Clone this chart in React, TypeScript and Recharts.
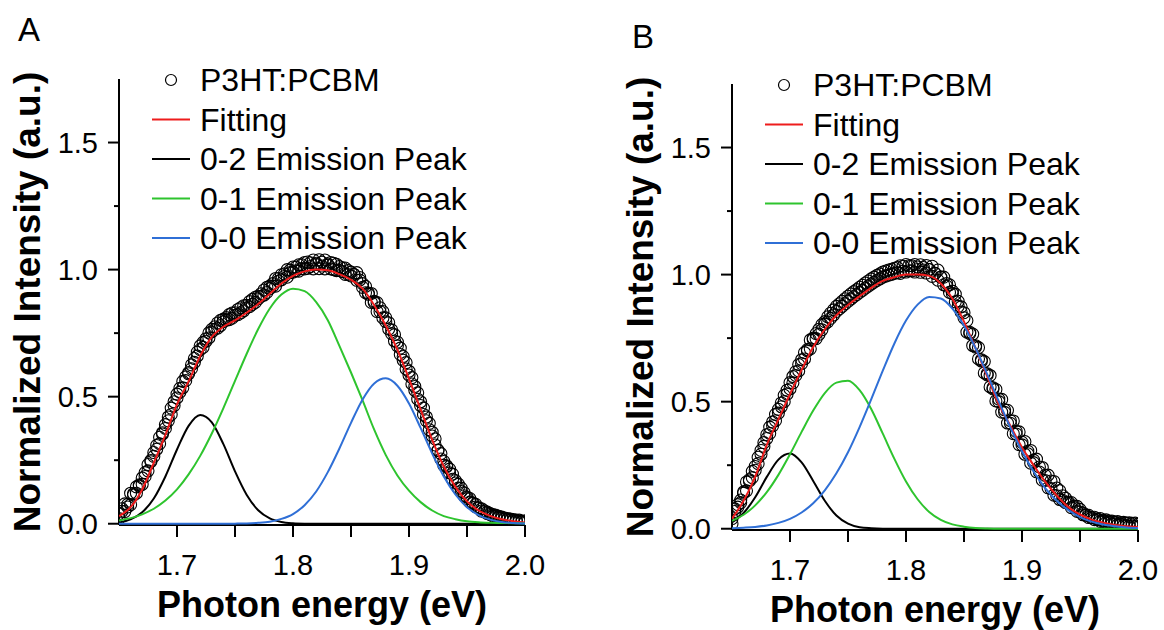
import React from "react";
import { ComposedChart, Line, Scatter, XAxis, YAxis, Label, Legend } from "recharts";

const FONT = "'Liberation Sans', Arial, sans-serif";

// photon energy grid of the fitted curves (eV)
const energy = [
  1.65, 1.66, 1.67, 1.68, 1.69, 1.7, 1.71, 1.72, 1.73, 1.74, 1.75, 1.76,
  1.77, 1.78, 1.79, 1.8, 1.81, 1.82, 1.83, 1.84, 1.85, 1.86, 1.87, 1.88,
  1.89, 1.9, 1.91, 1.92, 1.93, 1.94, 1.95, 1.96, 1.97, 1.98, 1.99, 2.0,
];

// photon energy of the measured points (eV), two scans per sample
const scanEnergy = [
  1.65, 1.6525, 1.655, 1.6575, 1.66, 1.6625, 1.665, 1.6675, 1.67, 1.6725,
  1.675, 1.6775, 1.68, 1.6825, 1.685, 1.6875, 1.69, 1.6925, 1.695, 1.6975,
  1.7, 1.7025, 1.705, 1.7075, 1.71, 1.7125, 1.715, 1.7175, 1.72, 1.7225,
  1.725, 1.7275, 1.73, 1.7325, 1.735, 1.7375, 1.74, 1.7425, 1.745, 1.7475,
  1.75, 1.7525, 1.755, 1.7575, 1.76, 1.7625, 1.765, 1.7675, 1.77, 1.7725,
  1.775, 1.7775, 1.78, 1.7825, 1.785, 1.7875, 1.79, 1.7925, 1.795, 1.7975,
  1.8, 1.8025, 1.805, 1.8075, 1.81, 1.8125, 1.815, 1.8175, 1.82, 1.8225,
  1.825, 1.8275, 1.83, 1.8325, 1.835, 1.8375, 1.84, 1.8425, 1.845, 1.8475,
  1.85, 1.8525, 1.855, 1.8575, 1.86, 1.8625, 1.865, 1.8675, 1.87, 1.8725,
  1.875, 1.8775, 1.88, 1.8825, 1.885, 1.8875, 1.89, 1.8925, 1.895, 1.8975,
  1.9, 1.9025, 1.905, 1.9075, 1.91, 1.9125, 1.915, 1.9175, 1.92, 1.9225,
  1.925, 1.9275, 1.93, 1.9325, 1.935, 1.9375, 1.94, 1.9425, 1.945, 1.9475,
  1.95, 1.9525, 1.955, 1.9575, 1.96, 1.9625, 1.965, 1.9675, 1.97, 1.9725,
  1.975, 1.9775, 1.98, 1.9825, 1.985, 1.9875, 1.99, 1.9925, 1.995, 1.9975,
  2.0,
];

// panel A
const fitA = [
  0.03, 0.065, 0.135, 0.24, 0.35, 0.47, 0.56, 0.66, 0.735, 0.775, 0.8, 0.83,
  0.865, 0.905, 0.945, 0.975, 0.993, 1.0, 0.997, 0.982, 0.96, 0.925, 0.86, 0.78,
  0.685, 0.57, 0.45, 0.33, 0.225, 0.145, 0.088, 0.052, 0.031, 0.018, 0.01, 0.005,
];
const peak02A = [
  0.005, 0.017, 0.045, 0.099, 0.186, 0.292, 0.385, 0.428, 0.399, 0.313, 0.206, 0.114,
  0.053, 0.021, 0.007, 0.002, 0.0004, 0, 0, 0, 0, 0, 0, 0,
  0, 0, 0, 0, 0, 0, 0, 0, 0, 0, 0, 0,
];
const peak01A = [
  0.013, 0.022, 0.037, 0.059, 0.091, 0.135, 0.194, 0.267, 0.355, 0.455, 0.562, 0.668,
  0.766, 0.847, 0.902, 0.925, 0.915, 0.872, 0.801, 0.7, 0.595, 0.485, 0.37, 0.27,
  0.19, 0.13, 0.085, 0.052, 0.03, 0.018, 0.01, 0.006, 0.004, 0.003, 0.002, 0.001,
];
const peak00A = [
  0, 0, 0, 0, 0, 0, 0, 0, 0, 0, 0.0004, 0.0012,
  0.0034, 0.008, 0.019, 0.038, 0.073, 0.127, 0.203, 0.296, 0.397, 0.489, 0.552, 0.572,
  0.543, 0.473, 0.377, 0.276, 0.186, 0.115, 0.065, 0.034, 0.016, 0.007, 0.003, 0.001,
];
const scan1A = [
  0.02, 0.049, 0.048, 0.076, 0.075, 0.113, 0.12, 0.153, 0.155, 0.201,
  0.208, 0.249, 0.265, 0.308, 0.315, 0.358, 0.375, 0.42, 0.43, 0.48,
  0.495, 0.533, 0.535, 0.578, 0.59, 0.625, 0.635, 0.675, 0.685, 0.714,
  0.718, 0.751, 0.755, 0.775, 0.77, 0.8, 0.795, 0.811, 0.803, 0.829,
  0.82, 0.843, 0.83, 0.858, 0.85, 0.874, 0.863, 0.891, 0.885, 0.905,
  0.9, 0.93, 0.925, 0.945, 0.935, 0.965, 0.96, 0.983, 0.97, 0.998,
  0.99, 1.01, 0.994, 1.019, 1.003, 1.03, 1.012, 1.038, 1.02, 1.039,
  1.014, 1.038, 1.017, 1.028, 1.0, 1.021, 0.997, 1.007, 0.981, 0.996,
  0.975, 0.981, 0.958, 0.969, 0.93, 0.934, 0.903, 0.906, 0.87, 0.87,
  0.835, 0.835, 0.795, 0.791, 0.748, 0.744, 0.7, 0.691, 0.643, 0.634,
  0.585, 0.575, 0.525, 0.515, 0.465, 0.455, 0.405, 0.395, 0.345, 0.334,
  0.288, 0.276, 0.23, 0.228, 0.2, 0.195, 0.16, 0.156, 0.127, 0.122,
  0.098, 0.099, 0.08, 0.076, 0.062, 0.059, 0.047, 0.046, 0.036, 0.036,
  0.028, 0.029, 0.021, 0.022, 0.016, 0.018, 0.012, 0.014, 0.009, 0.01,
  0.005,
];
const scan2A = [
  0.04, 0.059, 0.078, 0.066, 0.12, 0.118, 0.145, 0.148, 0.18, 0.186,
  0.233, 0.244, 0.28, 0.293, 0.34, 0.353, 0.39, 0.405, 0.455, 0.465,
  0.51, 0.518, 0.56, 0.563, 0.595, 0.61, 0.65, 0.66, 0.7, 0.694,
  0.728, 0.731, 0.765, 0.765, 0.79, 0.78, 0.805, 0.801, 0.823, 0.809,
  0.83, 0.823, 0.85, 0.838, 0.86, 0.854, 0.883, 0.871, 0.895, 0.895,
  0.92, 0.91, 0.935, 0.935, 0.965, 0.955, 0.98, 0.973, 1.0, 0.988,
  1.01, 0.995, 1.019, 1.004, 1.028, 1.005, 1.027, 1.003, 1.025, 1.004,
  1.029, 1.003, 1.022, 1.003, 1.025, 0.996, 1.012, 0.992, 1.006, 0.981,
  0.99, 0.981, 0.988, 0.959, 0.945, 0.909, 0.908, 0.871, 0.875, 0.835,
  0.85, 0.81, 0.81, 0.766, 0.763, 0.719, 0.715, 0.666, 0.658, 0.609,
  0.6, 0.55, 0.54, 0.49, 0.48, 0.43, 0.42, 0.37, 0.36, 0.31,
  0.29, 0.255, 0.245, 0.225, 0.215, 0.175, 0.17, 0.14, 0.14, 0.11,
  0.105, 0.085, 0.082, 0.066, 0.063, 0.05, 0.051, 0.04, 0.04, 0.03,
  0.033, 0.024, 0.026, 0.018, 0.02, 0.014, 0.016, 0.01, 0.014, 0.008,
  0.012,
];

// panel B
const fitB = [
  0.04, 0.11, 0.205, 0.33, 0.43, 0.53, 0.625, 0.715, 0.785, 0.84, 0.88, 0.915,
  0.948, 0.975, 0.99, 1.0, 1.0, 0.995, 0.965, 0.905, 0.815, 0.71, 0.6, 0.49,
  0.405, 0.32, 0.25, 0.185, 0.13, 0.085, 0.056, 0.036, 0.024, 0.015, 0.01, 0.007,
];
const peak02B = [
  0.025, 0.062, 0.124, 0.204, 0.272, 0.296, 0.261, 0.188, 0.11, 0.052, 0.02, 0.006,
  0.002, 0.0003, 0, 0, 0, 0, 0, 0, 0, 0, 0, 0,
  0, 0, 0, 0, 0, 0, 0, 0, 0, 0, 0, 0,
];
const peak01B = [
  0.031, 0.055, 0.092, 0.144, 0.212, 0.293, 0.381, 0.465, 0.534, 0.575, 0.582, 0.545,
  0.471, 0.374, 0.275, 0.186, 0.116, 0.066, 0.035, 0.017, 0.008, 0.003, 0.001, 0,
  0, 0, 0, 0, 0, 0, 0, 0, 0, 0, 0, 0,
];
const peak00B = [
  0.002, 0.004, 0.007, 0.013, 0.023, 0.039, 0.064, 0.1, 0.151, 0.218, 0.301, 0.4,
  0.509, 0.622, 0.729, 0.819, 0.882, 0.912, 0.906, 0.866, 0.799, 0.71, 0.608, 0.501,
  0.398, 0.305, 0.225, 0.16, 0.11, 0.073, 0.046, 0.028, 0.017, 0.01, 0.005, 0.003,
];
const scan1B = [
  0.02, 0.068, 0.095, 0.103, 0.14, 0.149, 0.193, 0.201, 0.245, 0.256,
  0.308, 0.324, 0.37, 0.375, 0.42, 0.425, 0.47, 0.48, 0.525, 0.53,
  0.575, 0.574, 0.618, 0.621, 0.665, 0.668, 0.705, 0.708, 0.75, 0.748,
  0.785, 0.783, 0.815, 0.814, 0.848, 0.841, 0.875, 0.865, 0.895, 0.885,
  0.915, 0.904, 0.933, 0.921, 0.95, 0.938, 0.967, 0.955, 0.983, 0.97,
  0.997, 0.983, 1.01, 0.994, 1.018, 1.001, 1.025, 1.008, 1.035, 1.013,
  1.04, 1.015, 1.035, 1.01, 1.03, 1.009, 1.028, 1.006, 1.02, 0.993,
  1.005, 0.978, 0.99, 0.96, 0.965, 0.93, 0.935, 0.893, 0.895, 0.853,
  0.85, 0.774, 0.768, 0.721, 0.715, 0.668, 0.66, 0.613, 0.605, 0.558,
  0.55, 0.503, 0.5, 0.459, 0.458, 0.416, 0.415, 0.374, 0.373, 0.331,
  0.33, 0.293, 0.295, 0.258, 0.26, 0.224, 0.223, 0.191, 0.19, 0.161,
  0.158, 0.132, 0.13, 0.115, 0.112, 0.103, 0.1, 0.083, 0.083, 0.068,
  0.066, 0.055, 0.054, 0.044, 0.043, 0.036, 0.036, 0.029, 0.029, 0.024,
  0.025, 0.019, 0.019, 0.015, 0.017, 0.012, 0.013, 0.01, 0.012, 0.009,
  0.007,
];
const scan2B = [
  0.04, 0.078, 0.085, 0.113, 0.145, 0.184, 0.188, 0.226, 0.23, 0.281,
  0.293, 0.339, 0.355, 0.4, 0.405, 0.45, 0.455, 0.495, 0.5, 0.545,
  0.55, 0.599, 0.603, 0.646, 0.65, 0.693, 0.7, 0.743, 0.745, 0.768,
  0.765, 0.803, 0.805, 0.834, 0.828, 0.861, 0.855, 0.885, 0.875, 0.905,
  0.895, 0.924, 0.913, 0.941, 0.93, 0.958, 0.947, 0.975, 0.963, 0.99,
  0.977, 1.003, 0.99, 1.014, 0.998, 1.021, 1.005, 1.028, 1.005, 1.033,
  1.01, 1.035, 1.015, 1.04, 1.02, 1.039, 1.018, 1.036, 1.02, 1.033,
  1.005, 1.018, 0.99, 0.99, 0.955, 0.96, 0.925, 0.923, 0.875, 0.873,
  0.83, 0.819, 0.773, 0.766, 0.72, 0.713, 0.665, 0.658, 0.61, 0.603,
  0.555, 0.548, 0.51, 0.509, 0.468, 0.466, 0.425, 0.424, 0.383, 0.381,
  0.34, 0.343, 0.305, 0.308, 0.27, 0.274, 0.243, 0.241, 0.21, 0.211,
  0.188, 0.186, 0.16, 0.15, 0.13, 0.12, 0.105, 0.103, 0.089, 0.088,
  0.076, 0.062, 0.053, 0.053, 0.044, 0.045, 0.039, 0.04, 0.034, 0.035,
  0.03, 0.03, 0.026, 0.028, 0.024, 0.025, 0.022, 0.023, 0.021, 0.022,
  0.017,
];

const xTicks = [1.7, 1.75, 1.8, 1.85, 1.9, 1.95, 2.0];
const yTicks = [0, 0.25, 0.5, 0.75, 1.0, 1.25, 1.5];
const seriesNames = ["P3HT:PCBM", "Fitting", "0-2 Emission Peak", "0-1 Emission Peak", "0-0 Emission Peak"];
const seriesColors = ["#000000", "#ee1c1c", "#000000", "#2ec42e", "#2f6fd6"];

function XTick(props: any) {
  const { x, y, payload } = props;
  const v = payload.value;
  const major = Math.round(v * 100) % 10 === 0;
  return (
    <g>
      <line x1={x} y1={y} x2={x} y2={y + 12} stroke="#000" strokeWidth={2} />
      {major && (
        <text x={x} y={y + 50} textAnchor="middle" fontSize={29} fontFamily={FONT} fill="#000">
          {v.toFixed(1)}
        </text>
      )}
    </g>
  );
}

function YTick(props: any) {
  const { x, y, payload } = props;
  const v = payload.value;
  const major = Math.round(v * 100) % 50 === 0;
  return (
    <g>
      <line x1={x} y1={y} x2={x - (major ? 11 : 5)} y2={y} stroke="#000" strokeWidth={2} />
      {major && (
        <text x={x - 21} y={y} textAnchor="end" dominantBaseline="central" fontSize={29} fontFamily={FONT} fill="#000">
          {v.toFixed(1)}
        </text>
      )}
    </g>
  );
}

const XTitle = () => (
  <text x={322} y={617} textAnchor="middle" fontSize={36} fontWeight="bold" fontFamily={FONT} fill="#000">
    Photon energy (eV)
  </text>
);

const YTitle = () => (
  <text x={40} y={302} transform="rotate(-90 40 302)" textAnchor="middle" fontSize={37} fontWeight="bold" fontFamily={FONT} fill="#000">
    Normalized Intensity (a.u.)
  </text>
);

function PeakLegend() {
  return (
    <svg width={520} height={270} style={{ display: "block" }}>
      {seriesNames.map((name, i) => {
        const cy = 80 + i * 39.5;
        return (
          <g key={name}>
            {i === 0 ? (
              <circle cx={171} cy={cy} r={5.5} fill="none" stroke="#000" strokeWidth={1.2} />
            ) : (
              <line x1={152} x2={190} y1={cy} y2={cy} stroke={seriesColors[i]} strokeWidth={2} />
            )}
            <text x={200} y={cy} dominantBaseline="central" fontSize={32} fontFamily={FONT} fill="#000">
              {name}
            </text>
          </g>
        );
      })}
    </svg>
  );
}

function PeakPanel({ fit, p02, p01, p00, scan1, scan2, width, height }: any) {
  const rows = energy.map((x, i) => ({ x, fit: fit[i], p02: p02[i], p01: p01[i], p00: p00[i] }));
  const dots = scanEnergy.flatMap((x, i) => [
    { x, y: scan1[i] },
    { x, y: scan2[i] },
  ]);
  return (
    <ComposedChart
      width={width}
      height={height}
      data={rows}
      margin={{ top: 79, right: width - 525, bottom: 0, left: 0 }}
    >
      <XAxis
        type="number"
        dataKey="x"
        domain={[1.65, 2.0]}
        allowDataOverflow
        ticks={xTicks}
        interval={0}
        tickSize={0}
        tickMargin={0}
        tickLine={false}
        axisLine={{ stroke: "#000", strokeWidth: 2 }}
        tick={XTick}
        height={height - 79 - 446}
      >
        <Label content={XTitle} />
      </XAxis>
      <YAxis
        type="number"
        domain={[-0.005, 1.75]}
        allowDataOverflow
        ticks={yTicks}
        interval={0}
        tickSize={0}
        tickMargin={0}
        tickLine={false}
        axisLine={{ stroke: "#000", strokeWidth: 2 }}
        tick={YTick}
        width={119}
      >
        <Label content={YTitle} />
      </YAxis>
      <Legend
        layout="horizontal"
        verticalAlign="middle"
        align="center"
        wrapperStyle={{ left: 0, top: 0, width: 520, height: 270, pointerEvents: "none" }}
        content={PeakLegend}
      />
      <Scatter
        name={seriesNames[0]}
        data={dots}
        dataKey="y"
        isAnimationActive={false}
        shape={(p: any) => <circle cx={p.cx} cy={p.cy} r={6} fill="none" stroke="#000" strokeWidth={1.1} />}
      />
      <Line name={seriesNames[1]} dataKey="fit" type="monotone" stroke={seriesColors[1]} strokeWidth={2} dot={false} activeDot={false} isAnimationActive={false} zIndex={700} />
      <Line name={seriesNames[2]} dataKey="p02" type="monotone" stroke={seriesColors[2]} strokeWidth={2} dot={false} activeDot={false} isAnimationActive={false} zIndex={700} />
      <Line name={seriesNames[3]} dataKey="p01" type="monotone" stroke={seriesColors[3]} strokeWidth={2} dot={false} activeDot={false} isAnimationActive={false} zIndex={700} />
      <Line name={seriesNames[4]} dataKey="p00" type="monotone" stroke={seriesColors[4]} strokeWidth={2} dot={false} activeDot={false} isAnimationActive={false} zIndex={700} />
    </ComposedChart>
  );
}

export default function App() {
  return (
    <div
      style={{
        position: "absolute",
        left: 0,
        top: 0,
        width: 1164,
        height: 630,
        background: "#fff",
        overflow: "hidden",
        fontFamily: FONT,
      }}
    >
      <div style={{ position: "absolute", left: 0, top: 0 }}>
        <PeakPanel fit={fitA} p02={peak02A} p01={peak01A} p00={peak00A} scan1={scan1A} scan2={scan2A} width={580} height={630} />
      </div>
      <div style={{ position: "absolute", left: 613, top: 5 }}>
        <PeakPanel fit={fitB} p02={peak02B} p01={peak01B} p00={peak00B} scan1={scan1B} scan2={scan2B} width={551} height={625} />
      </div>
      <div style={{ position: "absolute", left: 18, top: 13, fontSize: 33, lineHeight: "33px", color: "#000" }}>A</div>
      <div style={{ position: "absolute", left: 632, top: 20, fontSize: 33, lineHeight: "33px", color: "#000" }}>B</div>
    </div>
  );
}
